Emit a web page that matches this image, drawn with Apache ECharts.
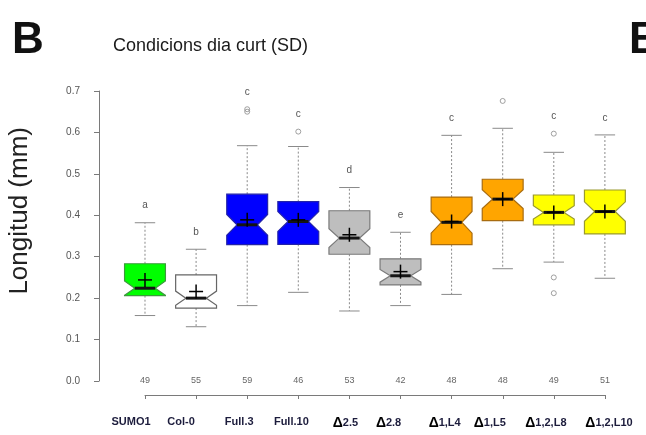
<!DOCTYPE html>
<html>
<head>
<meta charset="utf-8">
<script src="https://cdn.jsdelivr.net/npm/echarts@6/dist/echarts.min.js"></script>
<style>
  html, body { margin: 0; padding: 0; background: #fff; }
  #chart { width: 646px; height: 435px; }
</style>
</head>
<body>
<div id="chart"></div>
<script>
// Hypocotyl length per genotype, short-day conditions
const categories = ['SUMO1', 'Col-0', 'Full.3', 'Full.10', 'Δ2.5', 'Δ2.8', 'Δ1,L4', 'Δ1,L5', 'Δ1,2,L8', 'Δ1,2,L10'];
const whiskerLow  = [0.158, 0.131, 0.182, 0.214, 0.169, 0.182, 0.209, 0.271, 0.287, 0.248];
const lowerQuart  = [0.206, 0.176, 0.329, 0.330, 0.306, 0.232, 0.329, 0.387, 0.377, 0.355];
const medians     = [0.224, 0.200, 0.377, 0.385, 0.345, 0.254, 0.383, 0.439, 0.407, 0.409];
const upperQuart  = [0.283, 0.256, 0.451, 0.433, 0.411, 0.295, 0.444, 0.487, 0.449, 0.461];
const whiskerHigh = [0.382, 0.318, 0.568, 0.566, 0.467, 0.359, 0.593, 0.610, 0.552, 0.594];
const means       = [0.244, 0.216, 0.389, 0.389, 0.353, 0.264, 0.385, 0.439, 0.407, 0.409];
const counts      = [49, 55, 59, 46, 53, 42, 48, 48, 49, 51];
const groupLetters = ['a', 'b', 'c', 'c', 'd', 'e', 'c', '', 'c', 'c'];
// [group index, value]
const outliers = [[2, 0.656], [2, 0.650], [3, 0.602], [7, 0.676], [8, 0.597], [8, 0.250], [8, 0.212]];
const yTicks = [0, 0.7, 0.1];

// box fill / border per genotype
const fills   = ['#00ff00', '#ffffff', '#0000ff', '#0000ff', '#bebebe', '#bebebe', '#ffa500', '#ffa500', '#ffff00', '#ffff00'];
const borders = ['#3c9a3c', '#666666', '#2323a8', '#2323a8', '#7a7a7a', '#7a7a7a', '#a86c10', '#a86c10', '#9a9a30', '#9a9a30'];
// horizontal nudge (px) of each genotype name under its tick
const labelNudge = [-14, -15, -8, -7, -4, -12, -7, -13, -8, 4];

// highest drawn point of each group (whisker or outlier), for the letter placement
const groupTop = whiskerHigh.map((w, i) =>
  Math.max(w, ...outliers.filter(o => o[0] === i).map(o => o[1])));

const boxData = categories.map((c, i) => [
  i + 1, whiskerLow[i], lowerQuart[i], medians[i], upperQuart[i], whiskerHigh[i],
  means[i], counts[i], groupTop[i]
]);

function renderBox(params, api) {
  const i = params.dataIndex;
  const x = api.value(0);
  const P = v => api.coord([x, v]);
  const cx = P(0)[0];
  const hw = api.size([0.4, 0])[0];
  const nw = hw * 0.5;
  const lo = api.value(1), q1 = api.value(2), md = api.value(3), q3 = api.value(4), hi = api.value(5);
  const mean = api.value(6), n = api.value(7), top = api.value(8);
  // notch half-height as in R's boxplot.stats
  const nh = 1.58 * (q3 - q1) / Math.sqrt(n);
  const yq1 = P(q1)[1], yq3 = P(q3)[1], ymd = P(md)[1];
  const ynl = P(md - nh)[1], ynh = P(md + nh)[1];
  const ylo = P(lo)[1], yhi = P(hi)[1], ymean = P(mean)[1];
  const whisk = { stroke: '#8a8a8a', lineWidth: 1, lineDash: [2, 2] };
  const staple = { stroke: '#8a8a8a', lineWidth: 1 };
  const children = [
    { type: 'line', shape: { x1: cx, y1: yq3, x2: cx, y2: yhi }, style: whisk },
    { type: 'line', shape: { x1: cx, y1: yq1, x2: cx, y2: ylo }, style: whisk },
    { type: 'line', shape: { x1: cx - nw, y1: yhi, x2: cx + nw, y2: yhi }, style: staple },
    { type: 'line', shape: { x1: cx - nw, y1: ylo, x2: cx + nw, y2: ylo }, style: staple },
    {
      type: 'polygon',
      shape: { points: [
        [cx - hw, yq1], [cx - hw, ynl], [cx - nw, ymd], [cx - hw, ynh], [cx - hw, yq3],
        [cx + hw, yq3], [cx + hw, ynh], [cx + nw, ymd], [cx + hw, ynl], [cx + hw, yq1]
      ] },
      style: { fill: fills[i], stroke: borders[i], lineWidth: 1.2, lineJoin: 'miter' }
    },
    { type: 'line', shape: { x1: cx - nw, y1: ymd, x2: cx + nw, y2: ymd },
      style: { stroke: '#141414', lineWidth: 3 } },
    { type: 'line', shape: { x1: cx - 7, y1: ymean, x2: cx + 7, y2: ymean },
      style: { stroke: '#000', lineWidth: 1.5 } },
    { type: 'line', shape: { x1: cx, y1: ymean - 7, x2: cx, y2: ymean + 7 },
      style: { stroke: '#000', lineWidth: 1.5 } },
    { type: 'text', x: cx, y: P(0)[1],
      style: { text: String(n), fill: '#666', font: '9px "Liberation Sans", Arial, sans-serif',
               align: 'center', verticalAlign: 'middle' } },
    { type: 'text', x: cx, y: P(top)[1] - 17,
      style: { text: groupLetters[i], fill: '#555', font: '10px "Liberation Sans", Arial, sans-serif',
               align: 'center', verticalAlign: 'middle' } }
  ];
  return { type: 'group', children };
}

const chart = echarts.init(document.getElementById('chart'), null, { renderer: 'canvas' });

chart.setOption({
  animation: false,
  backgroundColor: '#ffffff',
  title: [
    { text: 'B', left: 7, top: 14,
      textStyle: { fontSize: 44, fontWeight: 'bold', color: '#111', fontFamily: '"Liberation Sans", Arial, sans-serif' } },
    { text: 'Condicions dia curt (SD)', left: 108, top: 32,
      textStyle: { fontSize: 18, fontWeight: 'normal', color: '#1a1a1a', fontFamily: '"Liberation Sans", Arial, sans-serif' } },
    { text: 'B', left: 624, top: 14,
      textStyle: { fontSize: 44, fontWeight: 'bold', color: '#111', fontFamily: '"Liberation Sans", Arial, sans-serif' } }
  ],
  graphic: [
    { type: 'text', left: 7, top: 127, rotation: Math.PI / 2,
      style: { text: 'Longitud (mm)', fill: '#222', font: '26px "Liberation Sans", Arial, sans-serif' } }
  ],
  grid: [
    { left: 99, top: 91, width: 531, height: 290 },
    { left: 145, top: 394, width: 460, height: 1 }
  ],
  xAxis: [
    { gridIndex: 0, type: 'value', min: 0.1, max: 0.1 + 531 / 51.1, show: false },
    { gridIndex: 1, type: 'category', data: categories, boundaryGap: false, position: 'bottom',
      axisLine: { lineStyle: { color: '#7a7a7a', width: 1 } },
      axisTick: { length: 4, lineStyle: { color: '#7a7a7a' } },
      axisLabel: {
        margin: 21, interval: 0,
        formatter: (v, idx) => {
          const k = labelNudge[idx];
          const pad = k < 0 ? '{l' + (-2 * k) + '|}' : '';
          const padR = k > 0 ? '{l' + (2 * k) + '|}' : '';
          const body = v.startsWith('Δ') ? '{d|Δ}{t|' + v.slice(1) + '}' : '{t|' + v + '}';
          return padR + body + pad;
        },
        rich: Object.assign({
          d: { fontSize: 14, fontWeight: 'bold', color: '#000', fontFamily: '"Liberation Sans", Arial, sans-serif' },
          t: { fontSize: 11, fontWeight: 'bold', color: '#1c1c3c', fontFamily: '"Liberation Sans", Arial, sans-serif' }
        }, Object.fromEntries(Array.from({ length: 31 }, (_, w) => ['l' + w, { width: w }])))
      },
      splitLine: { show: false } }
  ],
  yAxis: [
    { gridIndex: 0, type: 'value', min: yTicks[0], max: yTicks[1], interval: yTicks[2],
      axisLine: { show: true, lineStyle: { color: '#7a7a7a', width: 1 } },
      axisTick: { show: true, length: 5, lineStyle: { color: '#7a7a7a' } },
      axisLabel: { margin: 19, color: '#555', fontSize: 10, fontFamily: '"Liberation Sans", Arial, sans-serif',
                   formatter: v => v.toFixed(1) },
      splitLine: { show: false } },
    { gridIndex: 1, type: 'value', show: false }
  ],
  series: [
    { type: 'custom', xAxisIndex: 0, yAxisIndex: 0, renderItem: renderBox,
      encode: { x: 0, y: [1, 2, 3, 4, 5] }, data: boxData, z: 2 },
    { type: 'scatter', xAxisIndex: 0, yAxisIndex: 0, symbol: 'circle', symbolSize: 5,
      itemStyle: { color: 'rgba(0,0,0,0)', borderColor: '#8a8a8a', borderWidth: 1 },
      data: outliers.map(o => [o[0] + 1, o[1]]), z: 3 }
  ]
});
</script>
</body>
</html>
